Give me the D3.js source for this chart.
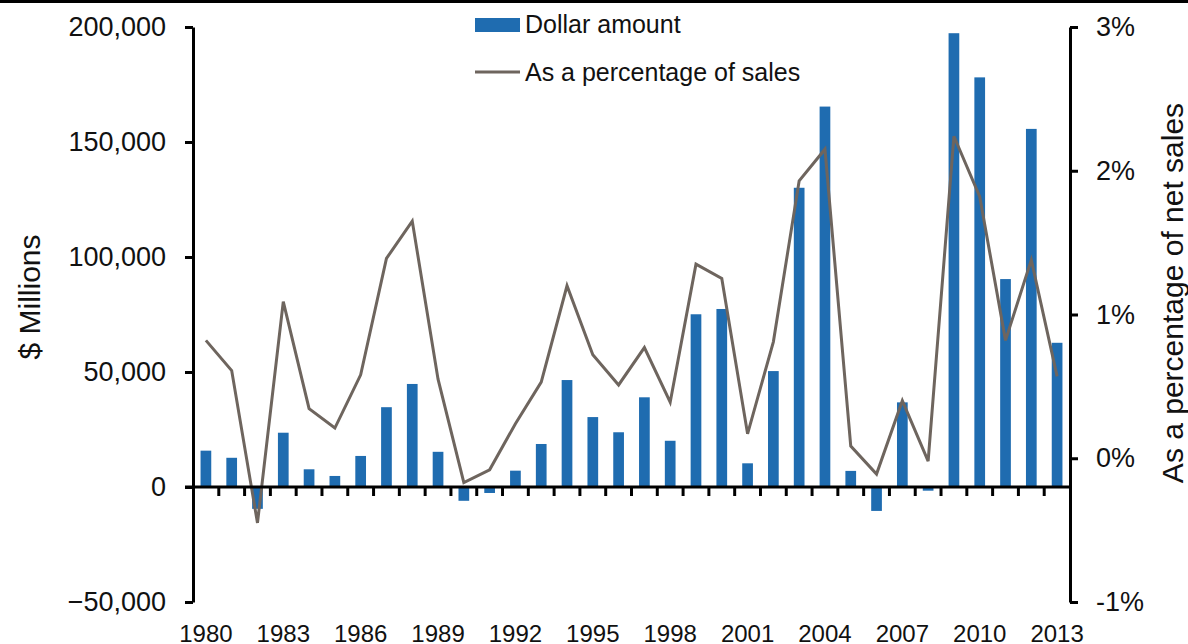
<!DOCTYPE html>
<meta charset="utf-8">
<style>
    body { margin: 0; background: #fff; }
    svg { font-family: "Liberation Sans", Arial, sans-serif; }
    .axis text { fill: #111; }
    .line { fill: none; stroke: #6e655e; stroke-width: 3px; stroke-linejoin: miter; }
</style>
<svg width="1188" height="644"></svg>
<script src="https://d3js.org/d3.v7.min.js"></script>
<script>
    // data
    var years = d3.range(1980, 2014).map(String);
    var dollars = [15800, 12700, -9500, 23600, 7700, 4800, 13500, 34700, 44800, 15300,
        -6000, -2600, 7100, 18700, 46500, 30400, 23800, 39000, 20100, 75100,
        77400, 10300, 50400, 130100, 165400, 7000, -10400, 36800, -1600, 197300,
        178100, 90400, 155700, 62700];
    var pctSales = [0.82, 0.61, -0.45, 1.09, 0.345, 0.21, 0.58, 1.39, 1.65, 0.55,
        -0.17, -0.08, 0.24, 0.53, 1.20, 0.72, 0.51, 0.77, 0.39, 1.35,
        1.25, 0.17, 0.81, 1.93, 2.15, 0.085, -0.11, 0.40, -0.02, 2.24,
        1.82, 0.82, 1.38, 0.57];
    var leftTicks = [-50000, 0, 50000, 100000, 150000, 200000];
    var rightTicks = [-1, 0, 1, 2, 3];
    var labelYears = years.filter(function (d, i) { return i % 3 === 0; });

    var svg = d3.select("svg"),
        width = +svg.attr("width"),
        mLeft = 193, mRight = 1070, mTop = 27, mBottom = 602;

    var x = d3.scaleBand()
        .domain(years)
        .range([mLeft, mRight])
        .paddingInner(0.585)
        .paddingOuter(0.2925);

    var y = d3.scaleLinear().domain([-50000, 200000]).range([mBottom, mTop]);
    var y2 = d3.scaleLinear().domain([-1, 3]).range([mBottom, mTop]);

    var data = years.map(function (d, i) { return { year: d, v: dollars[i], p: pctSales[i] }; });

    // top rule
    svg.append("rect").attr("x", 0).attr("y", 0).attr("width", width).attr("height", 3).attr("fill", "#000");

    // bars
    svg.append("g")
        .selectAll("rect")
        .data(data)
        .enter().append("rect")
        .attr("x", function (d) { return x(d.year); })
        .attr("width", x.bandwidth())
        .attr("y", function (d) { return y(Math.max(0, d.v)); })
        .attr("height", function (d) { return Math.abs(y(d.v) - y(0)); })
        .attr("fill", "#1f6cb0");

    // line
    var line = d3.line()
        .x(function (d) { return x(d.year) + x.bandwidth() / 2; })
        .y(function (d) { return y2(d.p); });
    svg.append("path").attr("class", "line").attr("d", line(data));

    // left axis
    var yAxis = svg.append("g")
        .attr("class", "axis")
        .attr("transform", "translate(" + mLeft + ",0)")
        .call(d3.axisLeft(y).tickValues(leftTicks).tickSize(8).tickSizeOuter(0).tickPadding(19)
            .tickFormat(d3.format(",")));
    yAxis.selectAll("text").attr("font-size", 27).attr("font-family", null);
    yAxis.select(".domain").attr("stroke-width", 3);
    yAxis.selectAll(".tick line").attr("stroke-width", 3);

    // right axis
    var y2Axis = svg.append("g")
        .attr("class", "axis")
        .attr("transform", "translate(" + mRight + ",0)")
        .call(d3.axisRight(y2).tickValues(rightTicks).tickSize(8).tickSizeOuter(0).tickPadding(18)
            .tickFormat(function (d) { return d + "%"; }));
    y2Axis.selectAll("text").attr("font-size", 27).attr("font-family", null);
    y2Axis.select(".domain").attr("stroke-width", 3);
    y2Axis.selectAll(".tick line").attr("stroke-width", 3);

    // x axis at zero, ticks between categories
    var zero = y(0);
    svg.append("line")
        .attr("x1", mLeft - 8).attr("x2", mRight)
        .attr("y1", zero).attr("y2", zero)
        .attr("stroke", "#000").attr("stroke-width", 3);
    var gap = (x.step() - x.bandwidth()) / 2;
    svg.append("g")
        .selectAll("line")
        .data(years.slice(1))
        .enter().append("line")
        .attr("x1", function (d) { return x(d) - gap; })
        .attr("x2", function (d) { return x(d) - gap; })
        .attr("y1", zero)
        .attr("y2", zero + 9)
        .attr("stroke", "#000")
        .attr("stroke-width", 3);

    // year labels at the bottom
    var xAxis = svg.append("g")
        .attr("class", "axis")
        .attr("transform", "translate(0,625)")
        .call(d3.axisBottom(x).tickValues(labelYears).tickSize(0).tickPadding(0));
    xAxis.select(".domain").remove();
    xAxis.selectAll("text").attr("font-size", 24).attr("font-family", null);

    // axis titles
    svg.append("text")
        .attr("transform", "translate(40,297)rotate(-90)")
        .attr("text-anchor", "middle")
        .attr("font-size", 30)
        .attr("fill", "#111")
        .text("$ Millions");
    svg.append("text")
        .attr("transform", "translate(1183,293)rotate(-90)")
        .attr("text-anchor", "middle")
        .attr("font-size", 30)
        .attr("fill", "#111")
        .text("As a percentage of net sales");

    // legend
    var legend = svg.append("g").attr("font-size", 25).attr("fill", "#111");
    legend.append("rect").attr("x", 475).attr("y", 18).attr("width", 45).attr("height", 14).attr("fill", "#1f6cb0");
    legend.append("text").attr("x", 525).attr("y", 33).text("Dollar amount");
    legend.append("line").attr("x1", 475).attr("x2", 520).attr("y1", 72).attr("y2", 72)
        .attr("stroke", "#6e655e").attr("stroke-width", 3);
    legend.append("text").attr("x", 525).attr("y", 81).text("As a percentage of sales");
</script>
